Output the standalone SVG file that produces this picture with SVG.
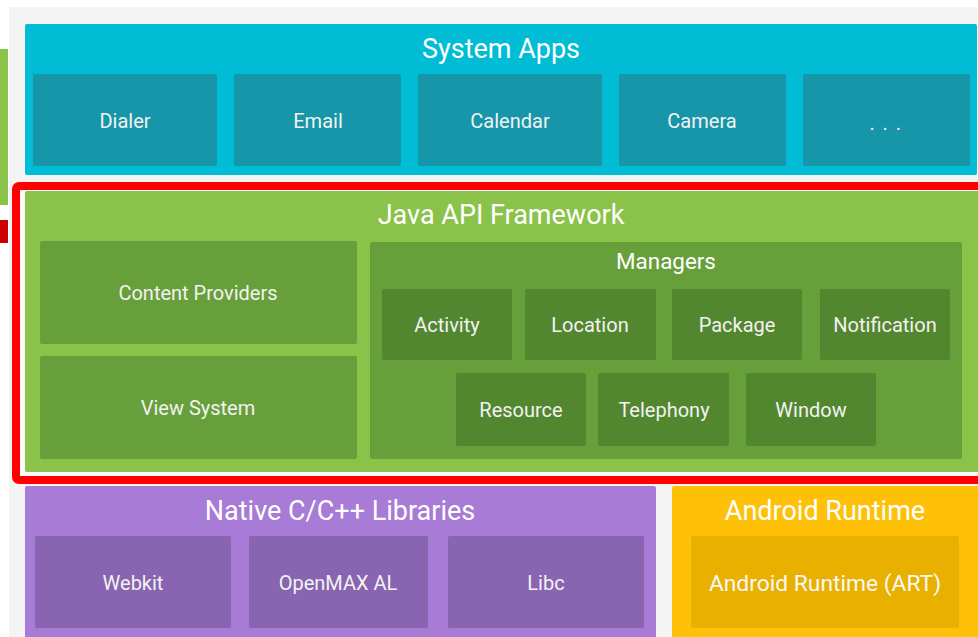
<svg xmlns="http://www.w3.org/2000/svg" width="978" height="637" viewBox="0 0 978 637">
<style>
.t{font-family:Roboto,"Liberation Sans",sans-serif;fill:#ffffff;text-anchor:middle}
.title{font-size:27px}
.lbl{font-size:20px;fill:#f2f2f2}
.mgr{font-size:22.4px}
.art{font-size:22.8px;fill:#f8f8f8}
.cyan{fill:#00bcd4}
.cyanbox{fill:#1796a9}
.green{fill:#8bc34a}
.gmid{fill:#67a03a}
.gdark{fill:#528730}
.purple{fill:#a77bd6}
.pbox{fill:#8964b0}
.amber{fill:#ffc107}
.abox{fill:#eab000}
</style>
<rect x="0" y="0" width="978" height="637" fill="#ffffff"/>
<rect x="9" y="7" width="969" height="630" fill="#f4f4f4"/>
<rect x="0" y="49" width="8" height="156" fill="#8bc34a"/>
<rect x="0" y="220" width="8" height="23" fill="#cc0000"/>

<g id="system-apps">
<rect class="cyan" x="25" y="24" width="952" height="151" rx="2"/>
<text class="t title" x="501" y="58">System Apps</text>
</g>
<g id="dialer"><rect class="cyanbox" x="33" y="74" width="184" height="92" rx="2"/><text class="t lbl" x="125" y="128">Dialer</text></g>
<g id="email"><rect class="cyanbox" x="234" y="74" width="167" height="92" rx="2"/><text class="t lbl" x="318" y="128">Email</text></g>
<g id="calendar"><rect class="cyanbox" x="418" y="74" width="184" height="92" rx="2"/><text class="t lbl" x="510" y="128">Calendar</text></g>
<g id="camera"><rect class="cyanbox" x="619" y="74" width="167" height="92" rx="2"/><text class="t lbl" x="702" y="128">Camera</text></g>
<g id="more"><rect class="cyanbox" x="803" y="74" width="167" height="92" rx="2"/><text class="t lbl" x="886" y="130" letter-spacing="1.5">. . .</text></g>

<g id="highlight">
<rect x="16" y="186" width="1000" height="294" rx="3" fill="#fafafa" stroke="#ff0000" stroke-width="8"/>
</g>

<g id="java-api-framework">
<rect class="green" x="25" y="191" width="960" height="281" rx="2"/>
<text class="t title" x="501" y="224">Java API Framework</text>
</g>
<g id="content-providers"><rect class="gmid" x="40" y="241" width="317" height="103" rx="2"/><text class="t lbl" x="198" y="300">Content Providers</text></g>
<g id="view-system"><rect class="gmid" x="40" y="356" width="317" height="103" rx="2"/><text class="t lbl" x="198" y="415">View System</text></g>
<g id="managers">
<rect class="gmid" x="370" y="242" width="592" height="217" rx="2"/>
<text class="t mgr" x="666" y="269">Managers</text>
</g>
<g id="activity"><rect class="gdark" x="382" y="289" width="130" height="71" rx="2"/><text class="t lbl" x="447" y="332">Activity</text></g>
<g id="location"><rect class="gdark" x="525" y="289" width="131" height="71" rx="2"/><text class="t lbl" x="590" y="332">Location</text></g>
<g id="package"><rect class="gdark" x="672" y="289" width="130" height="71" rx="2"/><text class="t lbl" x="737" y="332">Package</text></g>
<g id="notification"><rect class="gdark" x="820" y="289" width="130" height="71" rx="2"/><text class="t lbl" x="885" y="332">Notification</text></g>
<g id="resource"><rect class="gdark" x="456" y="373" width="130" height="73" rx="2"/><text class="t lbl" x="521" y="417">Resource</text></g>
<g id="telephony"><rect class="gdark" x="598" y="373" width="131" height="73" rx="2"/><text class="t lbl" x="664" y="417">Telephony</text></g>
<g id="window"><rect class="gdark" x="746" y="373" width="130" height="73" rx="2"/><text class="t lbl" x="811" y="417">Window</text></g>

<g id="native-libraries">
<rect class="purple" x="25" y="486" width="631" height="160" rx="2"/>
<text class="t title" x="340" y="520">Native C/C++ Libraries</text>
</g>
<g id="webkit"><rect class="pbox" x="35" y="536" width="196" height="92" rx="2"/><text class="t lbl" x="133" y="590">Webkit</text></g>
<g id="openmax"><rect class="pbox" x="249" y="536" width="179" height="92" rx="2"/><text class="t lbl" x="338" y="590">OpenMAX AL</text></g>
<g id="libc"><rect class="pbox" x="448" y="536" width="196" height="92" rx="2"/><text class="t lbl" x="546" y="590">Libc</text></g>

<g id="android-runtime">
<rect class="amber" x="672" y="486" width="320" height="160" rx="2"/>
<text class="t title" x="825" y="520">Android Runtime</text>
</g>
<g id="art"><rect class="abox" x="691" y="536" width="268" height="92" rx="2"/><text class="t art" x="825" y="591">Android Runtime (ART)</text></g>

<g id="connectors"></g>
</svg>
